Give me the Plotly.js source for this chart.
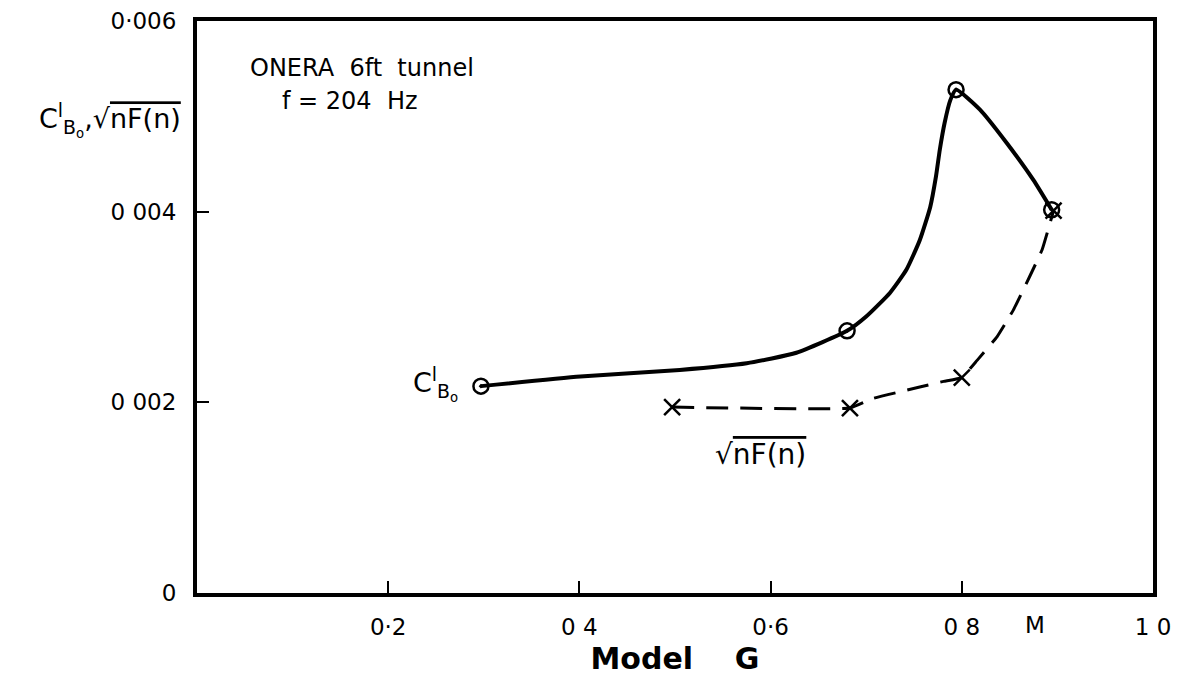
<!DOCTYPE html>
<html>
<head>
<meta charset="utf-8">
<script src="https://cdn.plot.ly/plotly-3.0.1.min.js"></script>
<style>html,body{margin:0;padding:0;background:#fff;}#chart{width:1177px;height:691px;}</style>
</head>
<body>
<div id="chart"></div>
<script>
// Measured points, C'B0 (solid curve, circle-dot markers)
const cbMach = [0.297, 0.680, 0.794, 0.894];
const cbValue = [0.00217, 0.00275, 0.00528, 0.00402];
// Solid curve as drawn
const cbCurveMach = [0.297, 0.401, 0.505, 0.575, 0.627, 0.680, 0.700, 0.725, 0.742, 0.756, 0.767, 0.773, 0.777, 0.782, 0.788, 0.794, 0.819, 0.847, 0.875, 0.894];
const cbCurveValue = [0.00217, 0.00227, 0.00234, 0.00241, 0.00252, 0.00275, 0.00290, 0.00315, 0.00339, 0.00370, 0.00405, 0.00437, 0.00465, 0.00493, 0.00517, 0.00528, 0.00507, 0.00472, 0.00433, 0.00402];
// Measured points, sqrt(nF(n)) (dashed curve, x markers)
const nfMach = [0.497, 0.683, 0.800, 0.896];
const nfValue = [0.00195, 0.00194, 0.00226, 0.00401];
// Dashed curve as drawn
const nfCurveMach = [0.497, 0.683, 0.707, 0.756, 0.781, 0.800, 0.816, 0.837, 0.854, 0.871, 0.884, 0.896];
const nfCurveValue = [0.00195, 0.00194, 0.00204, 0.00216, 0.00222, 0.00226, 0.00244, 0.00269, 0.00297, 0.00332, 0.00360, 0.00401];

const xTickVals = [0.2, 0.4, 0.6, 0.8, 1.0];
const xTickText = ['0·2', '0 4', '0·6', '0 8', '1 0'];
const yTickVals = [0, 0.002, 0.004, 0.006];
const yTickText = ['0', '0 002', '0 004', '0·006'];

const FONT = 'DejaVu Sans, Liberation Sans, sans-serif';

const traces = [
  {x: cbCurveMach, y: cbCurveValue, mode: 'lines', line: {color: '#000', width: 4, shape: 'spline', smoothing: 0.5}, hoverinfo: 'skip'},
  {x: nfCurveMach, y: nfCurveValue, mode: 'lines', line: {color: '#000', width: 3, dash: '22px,12px', shape: 'spline', smoothing: 0.3}, hoverinfo: 'skip'},
  {x: cbMach, y: cbValue, mode: 'markers', marker: {symbol: 'circle-open-dot', size: 15, color: '#000', line: {color: '#000', width: 2.5}}},
  {x: nfMach, y: nfValue, mode: 'markers', marker: {symbol: 'x-thin-open', size: 16, color: '#000', line: {color: '#000', width: 2.5}}}
];

const layout = {
  width: 1177, height: 691,
  margin: {l: 197, r: 24, t: 21, b: 98},
  paper_bgcolor: '#fff', plot_bgcolor: '#fff',
  showlegend: false,
  font: {family: FONT, color: '#000', size: 23},
  xaxis: {
    range: [0, 1], tickvals: xTickVals, ticktext: xTickText,
    ticks: 'inside', ticklen: 12, tickwidth: 2, tickcolor: '#000',
    showline: true, linecolor: '#000', linewidth: 4, mirror: true,
    showgrid: false, zeroline: false,
    ticklabelstandoff: 10,
    tickfont: {family: FONT, size: 23},
    title: {text: '<b>Model    G</b>', font: {family: FONT, size: 30}, standoff: 10}
  },
  yaxis: {
    range: [0, 0.006], tickvals: yTickVals, ticktext: yTickText,
    ticks: 'inside', ticklen: 12, tickwidth: 2, tickcolor: '#000',
    showline: true, linecolor: '#000', linewidth: 4, mirror: true,
    showgrid: false, zeroline: false,
    ticklabelstandoff: 12,
    tickfont: {family: FONT, size: 23}
  },
  annotations: [
    {xref: 'paper', yref: 'paper', x: -0.015, y: 0.827, xanchor: 'right', yanchor: 'middle', showarrow: false,
     text: "C<sup>l</sup><sub>B<sub>o</sub></sub>,√<span style='text-decoration:overline'>nF(n)</span>", font: {size: 27}},
    {xref: 'paper', yref: 'paper', x: 0.053, y: 0.917, xanchor: 'left', yanchor: 'middle', showarrow: false,
     text: 'ONERA  6ft  tunnel', font: {size: 24}},
    {xref: 'paper', yref: 'paper', x: 0.087, y: 0.860, xanchor: 'left', yanchor: 'middle', showarrow: false,
     text: 'f = 204  Hz', font: {size: 24}},
    {xref: 'x', yref: 'y', x: 0.275, y: 0.00219, xanchor: 'right', yanchor: 'middle', showarrow: false,
     text: 'C<sup>l</sup><sub>B<sub>o</sub></sub>', font: {size: 27}},
    {xref: 'x', yref: 'y', x: 0.589, y: 0.00145, xanchor: 'center', yanchor: 'middle', showarrow: false,
     text: "√<span style='text-decoration:overline'>nF(n)</span>", font: {size: 28}},
    {xref: 'x', yref: 'paper', x: 0.877, y: 0, yshift: -32, xanchor: 'center', yanchor: 'middle', showarrow: false,
     text: 'M', font: {size: 23}}
  ]
};

Plotly.newPlot('chart', traces, layout, {displayModeBar: false, staticPlot: true});
</script>
</body>
</html>
